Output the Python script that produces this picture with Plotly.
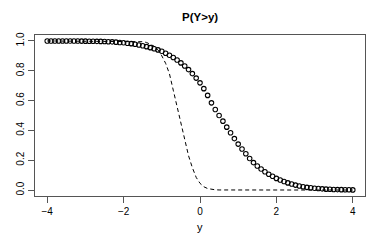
import plotly.graph_objects as go

y_grid = [-4.0, -3.9, -3.8, -3.7, -3.6, -3.5, -3.4, -3.3, -3.2, -3.1,
          -3.0, -2.9, -2.8, -2.7, -2.6, -2.5, -2.4, -2.3, -2.2, -2.1,
          -2.0, -1.9, -1.8, -1.7, -1.6, -1.5, -1.4, -1.3, -1.2, -1.1,
          -1.0, -0.9, -0.8, -0.7, -0.6, -0.5, -0.4, -0.3, -0.2, -0.1,
          0.0, 0.1, 0.2, 0.3, 0.4, 0.5, 0.6, 0.7, 0.8, 0.9,
          1.0, 1.1, 1.2, 1.3, 1.4, 1.5, 1.6, 1.7, 1.8, 1.9,
          2.0, 2.1, 2.2, 2.3, 2.4, 2.5, 2.6, 2.7, 2.8, 2.9,
          3.0, 3.1, 3.2, 3.3, 3.4, 3.5, 3.6, 3.7, 3.8, 3.9, 4.0]

p_points = [0.9999, 0.9999, 0.9999, 0.9998, 0.9998, 0.9997, 0.9996, 0.9995, 0.9993, 0.9991,
            0.9988, 0.9985, 0.998, 0.9975, 0.997, 0.996, 0.995, 0.994, 0.992, 0.990,
            0.988, 0.985, 0.982, 0.978, 0.973, 0.968, 0.962, 0.955, 0.948, 0.940,
            0.931, 0.918, 0.904, 0.889, 0.872, 0.853, 0.832, 0.808, 0.781, 0.751,
            0.719, 0.680, 0.635, 0.585, 0.540, 0.500, 0.462, 0.422, 0.384, 0.345,
            0.308, 0.275, 0.243, 0.212, 0.184, 0.161, 0.141, 0.123, 0.106, 0.092,
            0.078, 0.067, 0.057, 0.048, 0.040, 0.033, 0.027, 0.022, 0.018, 0.015,
            0.012, 0.010, 0.008, 0.006, 0.005, 0.004, 0.003, 0.0025, 0.002, 0.0015, 0.001]

dash_x = [-4.0, -2.0, -1.6, -1.5, -1.4, -1.3, -1.2, -1.1, -1.0, -0.9, -0.8, -0.7,
          -0.6, -0.5, -0.4, -0.3, -0.2, -0.1, 0.0, 0.1, 0.2, 0.3, 0.4, 0.5, 1.0, 4.0]
dash_p = [1.0, 0.9999, 0.998, 0.995, 0.99, 0.98, 0.965, 0.94, 0.90, 0.85, 0.78, 0.67,
          0.56, 0.44, 0.33, 0.23, 0.15, 0.085, 0.045, 0.022, 0.010, 0.004, 0.0015, 0.0005, 0.0, 0.0]

x_ticks = [-4, -2, 0, 2, 4]
x_tick_text = ["\u22124", "\u22122", "0", "2", "4"]
y_ticks = [0.0, 0.2, 0.4, 0.6, 0.8, 1.0]
y_tick_text = ["0.0", "0.2", "0.4", "0.6", "0.8", "1.0"]

FONT = "Liberation Sans, Arial, Helvetica, sans-serif"
PLOT_TOP, PLOT_BOTTOM = 35, 196
PLOT_H = PLOT_BOTTOM - PLOT_TOP

fig = go.Figure()
fig.add_trace(go.Scatter(
    x=dash_x, y=dash_p, mode="lines",
    line=dict(color="black", width=1, dash="4px,3px"),
    showlegend=False, hoverinfo="skip"))
fig.add_trace(go.Scatter(
    x=y_grid, y=p_points, mode="markers",
    marker=dict(symbol="circle-open", size=4.5, color="black", line=dict(width=1.1, color="black")),
    showlegend=False))

fig.update_layout(
    template="none",
    width=382, height=240,
    margin=dict(l=35, r=17, t=PLOT_TOP, b=240 - PLOT_BOTTOM, autoexpand=False),
    paper_bgcolor="white", plot_bgcolor="white",
    font=dict(family=FONT, size=10, color="black"),
    xaxis=dict(range=[-4.32, 4.32], tickvals=x_ticks, ticktext=x_tick_text,
               showgrid=False, zeroline=False, showline=True, mirror=True, automargin=False,
               linecolor="#555555", linewidth=1, ticks="outside", ticklen=6,
               tickcolor="#555555", tickfont=dict(size=10)),
    yaxis=dict(range=[-0.04, 1.04], tickvals=y_ticks, ticktext=y_tick_text,
               showgrid=False, zeroline=False, showline=True, mirror=True, automargin=False,
               linecolor="#555555", linewidth=1, ticks="outside", ticklen=6,
               tickcolor="#555555", tickangle=-90, tickfont=dict(size=10)),
    annotations=[
        dict(text="<b>P(Y>y)</b>", x=0.5, xref="paper", y=1 + (PLOT_TOP - 17.5) / PLOT_H, yref="paper",
             showarrow=False, font=dict(size=11.5), xanchor="center", yanchor="middle"),
        dict(text="y", x=0.5, xref="paper", y=-(227 - PLOT_BOTTOM) / PLOT_H, yref="paper",
             showarrow=False, font=dict(size=11), xanchor="center", yanchor="middle"),
    ],
)

fig.write_html("out.html",
               config={"displayModeBar": False, "staticPlot": True},
               post_script="document.body.style.margin='0';document.body.style.padding='0';")
